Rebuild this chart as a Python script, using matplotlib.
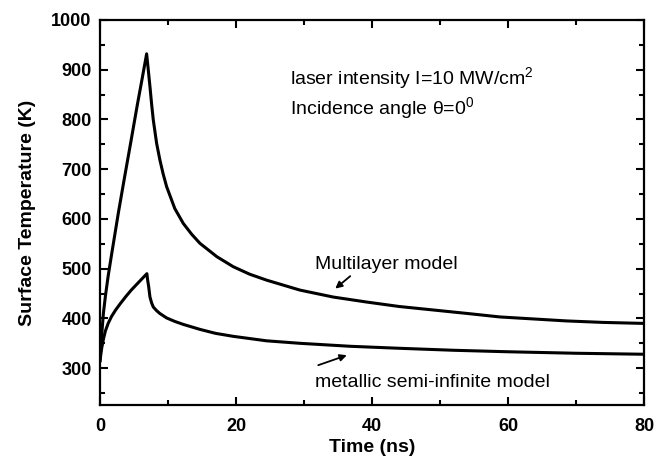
import matplotlib
matplotlib.use("Agg")
import matplotlib.pyplot as plt
from matplotlib.ticker import MultipleLocator

plt.rcParams['font.family'] = ['Liberation Sans', 'DejaVu Sans']
plt.rcParams['mathtext.fontset'] = 'custom'
plt.rcParams['mathtext.rm'] = 'Liberation Sans'
plt.rcParams['mathtext.it'] = 'Liberation Sans:italic'
plt.rcParams['mathtext.bf'] = 'Liberation Sans:bold'

# Multilayer model (time in ns, surface temperature in K)
t_multi = [0, 0.15, 0.3, 0.5, 0.8, 1.2, 1.7, 2.2, 2.7, 3.5, 4.5, 5.5, 6.2, 6.86,
           7.1, 7.35, 7.6, 7.84, 8.33, 8.82, 9.3, 9.8, 11.0, 12.25, 13.5, 14.7,
           17.2, 19.6, 22, 24.5, 29.4, 34.3, 39.2, 44, 49, 54, 58.8, 63.7, 68.6, 74, 80]
T_multi = [315, 350, 375, 410, 445, 485, 528, 570, 612, 675, 752, 830, 882, 932,
           900, 866, 830, 799, 752, 718, 690, 665, 621, 591, 569, 551,
           524, 504, 489, 477, 457, 443, 433, 424, 417, 410, 403, 399, 395, 392, 390]

# Metallic semi-infinite model
t_metal = [0, 0.25, 0.5, 0.8, 1.2, 1.7, 2.3, 3.0, 3.8, 4.6, 5.5, 6.2, 6.9,
           7.0, 7.16, 7.35, 7.6, 7.84, 8.3, 8.8, 9.8, 11, 12.25, 14.7, 17,
           19.6, 24.5, 29.4, 36.8, 44, 52, 60, 70, 80]
T_metal = [315, 340, 358, 375, 390, 404, 417, 430, 444, 457, 470, 480, 490,
           478, 464, 443, 431, 423, 416, 410, 401, 394, 388, 378, 370,
           364, 355, 350, 344, 340, 336, 333, 330, 328]

x_ticks = [0, 20, 40, 60, 80]
y_ticks = [300, 400, 500, 600, 700, 800, 900, 1000]

fig = plt.figure(figsize=(6.63, 4.65), dpi=100)
ax = fig.add_axes([0.1508, 0.128, 0.8205, 0.829])

ax.plot(t_multi, T_multi, color='black', lw=2.2, solid_joinstyle='round')
ax.plot(t_metal, T_metal, color='black', lw=2.2, solid_joinstyle='round')

ax.set_xlim(0, 80)
ax.set_ylim(225, 1000)
ax.set_xticks(x_ticks)
ax.set_yticks(y_ticks)
ax.xaxis.set_minor_locator(MultipleLocator(10))
ax.yaxis.set_minor_locator(MultipleLocator(50))
ax.tick_params(which='both', direction='in', top=True, right=True, width=1.5)
ax.tick_params(which='major', length=6)
ax.tick_params(which='minor', length=3.5)
ax.tick_params(axis='x', which='major', pad=9)
ax.tick_params(axis='y', which='major', pad=6)
for lbl in ax.get_xticklabels() + ax.get_yticklabels():
    lbl.set_fontweight('bold')
    lbl.set_fontsize(13)
for s in ax.spines.values():
    s.set_linewidth(1.6)

ax.set_xlabel('Time (ns)', fontsize=14, fontweight='bold', labelpad=3)
ax.set_ylabel('Surface Temperature (K)', fontsize=14, fontweight='bold', labelpad=11)

ax.text(27.9, 871, r'laser intensity I=10 MW/cm$^{\mathrm{2}}$', fontsize=14, va='baseline', ha='left')
ax.text(27.9, 811, r'Incidence angle θ=0$^{\mathrm{0}}$', fontsize=14, va='baseline', ha='left')

ax.text(31.6, 500, 'Multilayer model', fontsize=14, va='baseline', ha='left')
ax.text(31.6, 262, 'metallic semi-infinite model', fontsize=14, va='baseline', ha='left')

arrow = dict(arrowstyle='-|>', color='black', lw=1.3, mutation_scale=10, shrinkA=0, shrinkB=0)
ax.annotate('', xy=(34.6, 460), xytext=(36.8, 485), arrowprops=arrow)
ax.annotate('', xy=(36.3, 326), xytext=(32.1, 306), arrowprops=arrow)

fig.savefig('out.png', dpi=100)
